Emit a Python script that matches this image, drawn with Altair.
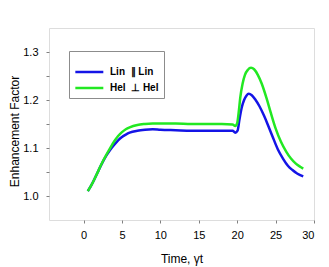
import altair as alt
import pandas as pd

series_names = ["Lin\u00a0 ∥ Lin", "Hel\u00a0 ⊥ Hel"]
colors = ["#1414e6", "#22e822"]

t_lin = [0.55, 1.0, 1.5, 2.0, 2.5, 3.0, 3.5, 4.0, 4.5, 5.0, 5.5, 6.0, 7.0, 8.0, 9.0, 10, 12, 14, 16, 18,
         19.4, 19.75, 20.05, 20.3, 20.6, 20.9, 21.2, 21.5, 21.9, 22.4, 22.9, 23.5, 24.0, 24.6, 25.3,
         26.0, 26.6, 27.2, 27.8, 28.6]
y_lin = [1.010, 1.022, 1.038, 1.055, 1.071, 1.085, 1.097, 1.107, 1.116, 1.123, 1.128, 1.132, 1.136,
         1.138, 1.139, 1.138, 1.137, 1.136, 1.136, 1.136, 1.136, 1.132, 1.136, 1.160, 1.185, 1.200,
         1.209, 1.213, 1.210, 1.200, 1.187, 1.167, 1.148, 1.124, 1.097, 1.077, 1.063, 1.054, 1.047, 1.041]

t_hel = [0.55, 1.0, 1.5, 2.0, 2.5, 3.0, 3.5, 4.0, 4.5, 5.0, 5.5, 6.0, 7.0, 8.0, 9.0, 10, 12, 14, 16, 18,
         19.4, 19.75, 20.0, 20.2, 20.4, 20.7, 21.0, 21.4, 21.8, 22.2, 22.7, 23.2, 23.8, 24.4, 25.0,
         25.7, 26.4, 27.0, 27.6, 28.2, 28.6]
y_hel = [1.010, 1.022, 1.038, 1.055, 1.072, 1.087, 1.101, 1.114, 1.125, 1.133, 1.139, 1.143, 1.148,
         1.150, 1.151, 1.151, 1.151, 1.150, 1.150, 1.150, 1.149, 1.146, 1.152, 1.175, 1.205, 1.234,
         1.252, 1.263, 1.267, 1.264, 1.252, 1.234, 1.205, 1.172, 1.141, 1.113, 1.092, 1.078, 1.068,
         1.061, 1.057]

x_ticks = [0, 5, 10, 15, 20, 25, 30]
y_ticks = [1.0, 1.05, 1.1, 1.15, 1.2, 1.25, 1.3]

rows = []
for i, (tt, yy) in enumerate(zip(t_lin, y_lin)):
    rows.append({"t": tt, "v": yy, "s": series_names[0], "o": i})
for i, (tt, yy) in enumerate(zip(t_hel, y_hel)):
    rows.append({"t": tt, "v": yy, "s": series_names[1], "o": i})
df = pd.DataFrame(rows)

FONT = "Liberation Sans"

chart = alt.Chart(df).mark_line(strokeWidth=2.5, interpolate="monotone").encode(
    x=alt.X("t:Q", scale=alt.Scale(domain=[-4.5, 30], nice=False, zero=False),
            axis=alt.Axis(values=x_ticks, title="Time,  γt", grid=False, domain=False,
                          tickColor="#808080", tickSize=3, tickWidth=1, labelPadding=6,
                          labelFontSize=11, labelColor="#000", titleFontSize=12,
                          titleFontWeight="normal", titleColor="#000",
                          titleY=38, titleBaseline="middle",
                          labelFont=FONT, titleFont=FONT)),
    y=alt.Y("v:Q", scale=alt.Scale(domain=[0.95, 1.35], nice=False, zero=False),
            axis=alt.Axis(values=y_ticks, title="Enhancement Factor", grid=False, domain=False,
                          format=".1f",
                          labelExpr="abs(datum.value*10 - round(datum.value*10)) < 0.01 ? datum.label : ''",
                          tickColor="#808080", tickSize=3, tickWidth=1, labelPadding=8,
                          labelFontSize=11, labelColor="#000", titleFontSize=12,
                          titleFontWeight="normal", titleColor="#000",
                          titleX=-35, titleY=103, titleAngle=-90, titleAlign="center",
                          titleBaseline="middle",
                          labelFont=FONT, titleFont=FONT)),
    color=alt.Color("s:N", scale=alt.Scale(domain=series_names, range=colors),
                    sort=series_names,
                    legend=alt.Legend(orient="none", legendX=20, legendY=23, title=" ",
                                      titleFontSize=10, titlePadding=0,
                                      strokeColor="#8c8c8c", padding=5,
                                      symbolType="M-1,0H5", symbolSize=87,
                                      symbolStrokeWidth=2.5, labelFontSize=10,
                                      labelFontWeight="bold", labelFont=FONT,
                                      labelColor="#000", labelOffset=24, rowPadding=5,
                                      fillColor="white")),
    order="o:Q",
).properties(
    width=265, height=192,
    autosize=alt.AutoSizeParams(type="none"),
    padding={"left": 41, "top": 20, "right": 7, "bottom": 47},
).configure_view(stroke="#8c8c8c", strokeWidth=1.5).configure(background="white")

chart.save("out.html", embed_options={"renderer": "svg", "actions": False})
